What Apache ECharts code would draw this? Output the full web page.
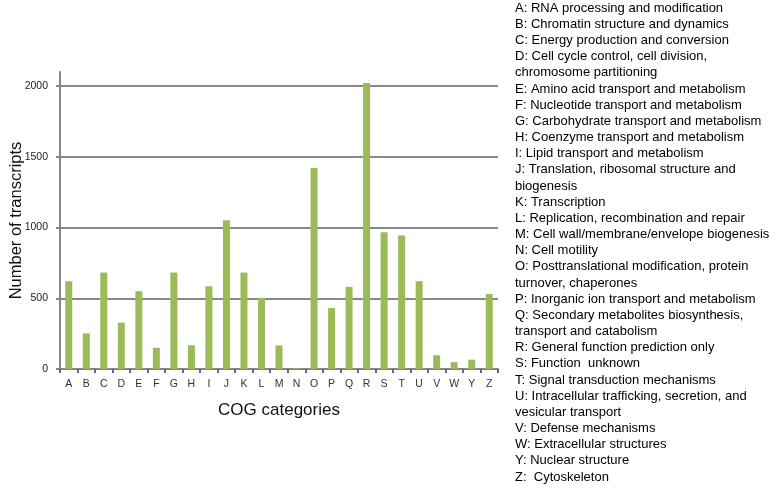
<!DOCTYPE html>
<html>
<head>
<meta charset="utf-8">
<script src="https://cdn.jsdelivr.net/npm/echarts@6/dist/echarts.min.js"></script>
<style>html,body{margin:0;padding:0;background:#fff;}#c{width:783px;height:490px;}</style>
</head>
<body>
<div id="c"></div>
<script>
const categories = ['A','B','C','D','E','F','G','H','I','J','K','L','M','N','O','P','Q','R','S','T','U','V','W','Y','Z'];
const transcripts = [620, 252, 682, 328, 550, 150, 682, 168, 585, 1052, 682, 503, 167, 5, 1422, 431, 581, 2022, 967, 944, 621, 97, 48, 66, 530];
const yTicks = [0, 500, 1000, 1500, 2000];
const legendLines = [
  'A: RNA processing and modification',
  'B: Chromatin structure and dynamics',
  'C: Energy production and conversion',
  'D: Cell cycle control, cell division,',
  'chromosome partitioning',
  'E: Amino acid transport and metabolism',
  'F: Nucleotide transport and metabolism',
  'G: Carbohydrate transport and metabolism',
  'H: Coenzyme transport and metabolism',
  'I: Lipid transport and metabolism',
  'J: Translation, ribosomal structure and',
  'biogenesis',
  'K: Transcription',
  'L: Replication, recombination and repair',
  'M: Cell wall/membrane/envelope biogenesis',
  'N: Cell motility',
  'O: Posttranslational modification, protein',
  'turnover, chaperones',
  'P: Inorganic ion transport and metabolism',
  'Q: Secondary metabolites biosynthesis,',
  'transport and catabolism',
  'R: General function prediction only',
  'S: Function  unknown',
  'T: Signal transduction mechanisms',
  'U: Intracellular trafficking, secretion, and',
  'vesicular transport',
  'V: Defense mechanisms',
  'W: Extracellular structures',
  'Y: Nuclear structure',
  'Z:  Cytoskeleton'
];

const chart = echarts.init(document.getElementById('c'));
const font = '"Liberation Sans", Arial, sans-serif';
chart.setOption({
  animation: false,
  textStyle: { fontFamily: font },
  grid: { left: 60, right: 285, top: 72, bottom: 121, containLabel: false, outerBoundsMode: 'none' },
  xAxis: {
    type: 'category',
    data: categories,
    name: 'COG categories',
    nameLocation: 'middle',
    nameGap: 33,
    nameMoveOverlap: false,
    nameTextStyle: { fontSize: 17, color: '#111', fontFamily: font },
    axisLine: { lineStyle: { color: '#868686', width: 2 } },
    axisTick: { show: true, length: 4, lineStyle: { color: '#6a6a6a', width: 2 } },
    axisLabel: { fontSize: 10.5, color: '#333', margin: 10, fontFamily: font }
  },
  yAxis: {
    type: 'value',
    min: 0,
    max: 2100,
    interval: 500,
    name: 'Number of transcripts',
    nameLocation: 'middle',
    nameGap: 35,
    nameMoveOverlap: false,
    nameTextStyle: { fontSize: 16.5, color: '#111', fontFamily: font },
    axisLine: { show: true, lineStyle: { color: '#868686', width: 2 } },
    axisTick: { show: true, length: 4, customValues: yTicks, lineStyle: { color: '#868686', width: 2 } },
    axisLabel: { fontSize: 10.5, color: '#222', margin: 12, customValues: yTicks, fontFamily: font, formatter: v => String(v) },
    splitLine: { show: true, lineStyle: { color: '#888888', width: 2 } }
  },
  series: [{
    type: 'bar',
    data: transcripts,
    barWidth: 7,
    itemStyle: { color: '#9BBB59' }
  }],
  graphic: [{
    type: 'text',
    left: 515,
    top: 0,
    style: {
      text: legendLines.join('\n'),
      font: '13px ' + font,
      fill: '#000',
      lineHeight: 16.17
    }
  }]
});
</script>
</body>
</html>
